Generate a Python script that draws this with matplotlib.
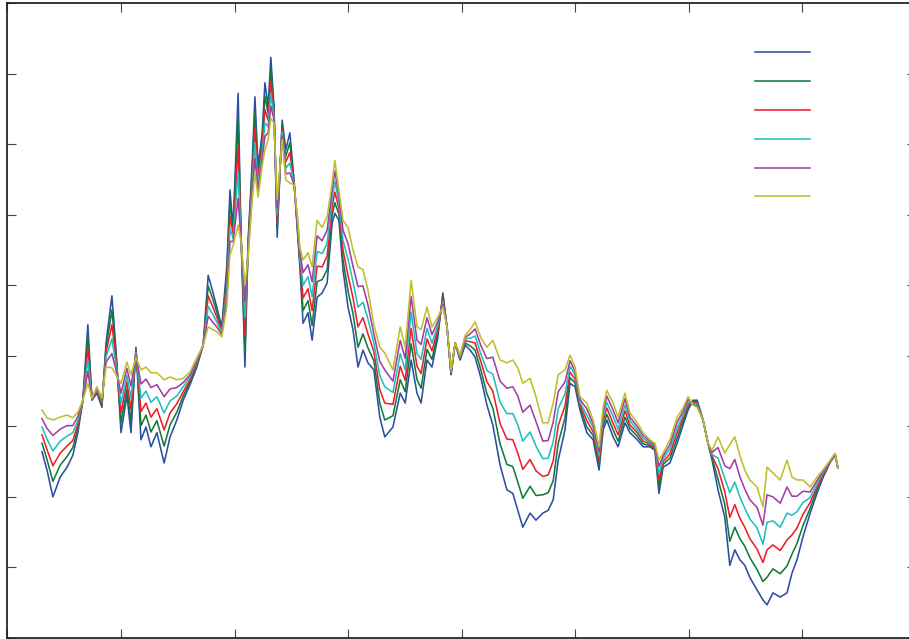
import numpy as np
import matplotlib
matplotlib.use("Agg")
import matplotlib.pyplot as plt

# trading-day index of each observation
day = [76, 87, 100, 116, 131, 144, 155, 166, 177, 186,
       197, 208, 217, 230, 239, 250, 263, 272, 283, 294,
       305, 316, 329, 345, 358, 373, 387, 402, 417, 431,
       442, 453, 461, 472, 483, 490, 497, 508, 514, 523,
       530, 539, 545, 552, 561, 567, 574, 580, 587, 594,
       605, 613, 622, 631, 638, 644, 651, 662, 671, 682,
       693, 704, 715, 721, 730, 739, 750, 761, 772, 783,
       794, 807, 820, 831, 849, 865, 876, 889, 902, 911,
       924, 935, 948, 959, 968, 977, 986, 997, 1008, 1019,
       1030, 1043, 1056, 1069, 1085, 1100, 1113, 1124, 1135, 1151,
       1164, 1179, 1191, 1202, 1213, 1228, 1239, 1250, 1261, 1276,
       1290, 1303, 1312, 1320, 1334, 1345, 1360, 1371, 1387, 1400,
       1415, 1426, 1435, 1444, 1459, 1475, 1488, 1499, 1510, 1519,
       1532, 1543, 1552, 1565, 1580, 1591, 1602, 1613, 1624, 1635,
       1651, 1664, 1673, 1686, 1702, 1717, 1728, 1739, 1752, 1768,
       1783, 1796, 1812, 1823, 1829]

# six series, from the most volatile (s1) to the smoothest (s6)
s1 = [2.64, 2.38, 2.00, 2.28, 2.42, 2.59, 2.91, 3.37, 4.44, 3.37,
      3.47, 3.27, 4.18, 4.85, 4.08, 2.91, 3.44, 2.91, 4.12, 2.81,
      2.99, 2.71, 2.91, 2.48, 2.85, 3.09, 3.37, 3.59, 3.84, 4.15,
      5.14, 4.89, 4.69, 4.41, 5.26, 6.35, 5.82, 7.72, 5.82, 3.84,
      5.64, 6.73, 7.67, 6.68, 7.16, 7.87, 7.53, 8.23, 7.53, 5.68,
      7.34, 6.92, 7.16, 6.49, 5.82, 5.26, 4.46, 4.61, 4.22, 4.83,
      4.89, 5.03, 5.88, 6.02, 5.92, 5.22, 4.69, 4.37, 3.84, 4.08,
      3.90, 3.80, 3.13, 2.85, 2.99, 3.47, 3.33, 3.94, 3.47, 3.33,
      3.94, 3.84, 4.27, 4.89, 4.41, 3.73, 4.18, 3.94, 4.15, 4.08,
      3.98, 3.68, 3.30, 3.02, 2.45, 2.10, 2.05, 1.81, 1.57, 1.77,
      1.67, 1.77, 1.81, 1.96, 2.52, 2.95, 3.61, 3.56, 3.23, 2.91,
      2.81, 2.38, 2.95, 3.09, 2.85, 2.71, 3.05, 2.91, 2.81, 2.71,
      2.71, 2.66, 2.05, 2.42, 2.48, 2.76, 3.02, 3.23, 3.37, 3.37,
      3.09, 2.76, 2.52, 2.10, 1.71, 1.03, 1.25, 1.11, 1.03, 0.86,
      0.68, 0.54, 0.47, 0.64, 0.58, 0.64, 0.92, 1.11, 1.43, 1.77,
      2.05, 2.27, 2.49, 2.59, 2.41]
s2 = [2.76, 2.53, 2.22, 2.45, 2.57, 2.70, 2.97, 3.37, 4.27, 3.38,
      3.49, 3.30, 4.11, 4.65, 4.01, 3.05, 3.53, 3.07, 4.09, 3.01,
      3.16, 2.92, 3.08, 2.72, 3.02, 3.20, 3.43, 3.63, 3.87, 4.15,
      4.99, 4.79, 4.62, 4.38, 5.15, 6.17, 5.77, 7.35, 5.78, 4.07,
      5.59, 6.63, 7.45, 6.59, 7.07, 7.68, 7.44, 8.06, 7.48, 5.79,
      7.28, 6.83, 7.02, 6.48, 5.86, 5.32, 4.64, 4.78, 4.43, 5.05,
      5.08, 5.22, 5.99, 6.17, 6.01, 5.36, 4.92, 4.60, 4.12, 4.31,
      4.11, 3.93, 3.33, 3.09, 3.15, 3.66, 3.49, 4.17, 3.66, 3.54,
      4.09, 3.95, 4.33, 4.85, 4.41, 3.74, 4.18, 3.95, 4.18, 4.14,
      4.08, 3.79, 3.46, 3.26, 2.75, 2.46, 2.43, 2.21, 1.98, 2.15,
      2.02, 2.03, 2.06, 2.23, 2.76, 3.12, 3.69, 3.62, 3.27, 2.99,
      2.87, 2.45, 3.01, 3.17, 2.95, 2.79, 3.13, 2.97, 2.86, 2.75,
      2.73, 2.68, 2.14, 2.46, 2.55, 2.83, 3.07, 3.27, 3.36, 3.35,
      3.09, 2.76, 2.55, 2.25, 1.89, 1.37, 1.57, 1.41, 1.30, 1.14,
      0.97, 0.80, 0.86, 0.98, 0.91, 1.02, 1.19, 1.34, 1.59, 1.84,
      2.10, 2.29, 2.50, 2.60, 2.41]
s3 = [2.88, 2.67, 2.44, 2.62, 2.72, 2.80, 3.03, 3.37, 4.11, 3.38,
      3.51, 3.32, 4.05, 4.44, 3.94, 3.19, 3.63, 3.24, 4.06, 3.21,
      3.33, 3.13, 3.25, 2.95, 3.19, 3.32, 3.49, 3.66, 3.89, 4.15,
      4.85, 4.68, 4.55, 4.35, 5.03, 5.98, 5.72, 6.97, 5.75, 4.30,
      5.54, 6.52, 7.24, 6.51, 6.98, 7.49, 7.34, 7.89, 7.44, 5.89,
      7.22, 6.75, 6.88, 6.46, 5.90, 5.37, 4.82, 4.95, 4.64, 5.27,
      5.26, 5.41, 6.11, 6.32, 6.09, 5.50, 5.14, 4.82, 4.41, 4.54,
      4.31, 4.06, 3.52, 3.33, 3.31, 3.85, 3.65, 4.39, 3.85, 3.75,
      4.24, 4.07, 4.38, 4.81, 4.41, 3.76, 4.18, 3.97, 4.21, 4.20,
      4.18, 3.91, 3.63, 3.50, 3.04, 2.82, 2.81, 2.62, 2.39, 2.53,
      2.37, 2.29, 2.31, 2.51, 3.01, 3.29, 3.77, 3.67, 3.31, 3.08,
      2.92, 2.51, 3.08, 3.26, 3.04, 2.88, 3.22, 3.02, 2.91, 2.79,
      2.75, 2.70, 2.24, 2.50, 2.61, 2.91, 3.12, 3.31, 3.34, 3.33,
      3.09, 2.76, 2.58, 2.40, 2.07, 1.71, 1.89, 1.70, 1.57, 1.41,
      1.26, 1.07, 1.25, 1.32, 1.24, 1.39, 1.46, 1.56, 1.75, 1.92,
      2.14, 2.31, 2.50, 2.60, 2.41]
s4 = [2.99, 2.82, 2.65, 2.79, 2.86, 2.91, 3.08, 3.37, 3.94, 3.39,
      3.52, 3.35, 3.98, 4.24, 3.87, 3.33, 3.72, 3.40, 4.04, 3.40,
      3.50, 3.34, 3.42, 3.19, 3.36, 3.43, 3.56, 3.70, 3.92, 4.15,
      4.70, 4.58, 4.48, 4.33, 4.92, 5.80, 5.67, 6.60, 5.71, 4.54,
      5.50, 6.42, 7.02, 6.42, 6.88, 7.30, 7.25, 7.71, 7.39, 6.00,
      7.17, 6.66, 6.73, 6.45, 5.94, 5.43, 5.00, 5.12, 4.84, 5.48,
      5.45, 5.59, 6.22, 6.47, 6.18, 5.64, 5.37, 5.05, 4.69, 4.76,
      4.52, 4.18, 3.72, 3.56, 3.48, 4.03, 3.80, 4.62, 4.03, 3.95,
      4.39, 4.18, 4.44, 4.77, 4.41, 3.77, 4.18, 3.98, 4.24, 4.25,
      4.28, 4.02, 3.79, 3.74, 3.34, 3.18, 3.18, 3.02, 2.79, 2.92,
      2.72, 2.54, 2.55, 2.78, 3.25, 3.46, 3.85, 3.73, 3.34, 3.16,
      2.98, 2.58, 3.14, 3.34, 3.14, 2.96, 3.30, 3.08, 2.95, 2.83,
      2.77, 2.72, 2.33, 2.54, 2.68, 2.98, 3.16, 3.34, 3.33, 3.31,
      3.09, 2.76, 2.60, 2.55, 2.26, 2.06, 2.21, 2.00, 1.84, 1.69,
      1.56, 1.33, 1.64, 1.66, 1.57, 1.77, 1.74, 1.79, 1.92, 1.99,
      2.19, 2.34, 2.51, 2.61, 2.41]
s5 = [3.11, 2.97, 2.87, 2.96, 3.01, 3.01, 3.14, 3.37, 3.78, 3.39,
      3.54, 3.37, 3.91, 4.03, 3.80, 3.47, 3.82, 3.57, 4.01, 3.60,
      3.67, 3.55, 3.59, 3.42, 3.53, 3.55, 3.62, 3.73, 3.94, 4.15,
      4.56, 4.47, 4.41, 4.30, 4.80, 5.62, 5.62, 6.23, 5.68, 4.77,
      5.45, 6.31, 6.80, 6.34, 6.79, 7.11, 7.16, 7.54, 7.35, 6.10,
      7.11, 6.58, 6.59, 6.43, 5.98, 5.48, 5.18, 5.29, 5.05, 5.70,
      5.63, 5.78, 6.34, 6.62, 6.26, 5.78, 5.59, 5.27, 4.98, 4.99,
      4.72, 4.31, 3.92, 3.80, 3.64, 4.22, 3.96, 4.84, 4.22, 4.16,
      4.54, 4.30, 4.49, 4.73, 4.41, 3.79, 4.18, 4.00, 4.26, 4.31,
      4.38, 4.14, 3.96, 3.98, 3.64, 3.54, 3.56, 3.43, 3.20, 3.30,
      3.07, 2.79, 2.80, 3.06, 3.49, 3.63, 3.93, 3.78, 3.38, 3.25,
      3.03, 2.64, 3.21, 3.43, 3.23, 3.05, 3.39, 3.13, 3.00, 2.87,
      2.79, 2.74, 2.43, 2.58, 2.74, 3.06, 3.21, 3.38, 3.31, 3.29,
      3.09, 2.76, 2.63, 2.70, 2.44, 2.40, 2.53, 2.29, 2.11, 1.96,
      1.85, 1.60, 2.03, 2.00, 1.91, 2.14, 2.01, 2.01, 2.08, 2.07,
      2.23, 2.36, 2.51, 2.61, 2.41]
s6 = [3.23, 3.12, 3.09, 3.13, 3.16, 3.12, 3.20, 3.37, 3.61, 3.40,
      3.56, 3.40, 3.84, 3.83, 3.73, 3.61, 3.91, 3.73, 3.98, 3.80,
      3.84, 3.76, 3.76, 3.66, 3.70, 3.66, 3.68, 3.77, 3.97, 4.15,
      4.41, 4.37, 4.34, 4.27, 4.69, 5.43, 5.57, 5.85, 5.64, 5.00,
      5.40, 6.21, 6.59, 6.25, 6.70, 6.92, 7.06, 7.37, 7.30, 6.21,
      7.06, 6.49, 6.45, 6.42, 6.02, 5.54, 5.36, 5.46, 5.26, 5.92,
      5.82, 5.97, 6.45, 6.77, 6.35, 5.92, 5.82, 5.50, 5.26, 5.22,
      4.93, 4.44, 4.12, 4.04, 3.80, 4.41, 4.12, 5.07, 4.41, 4.37,
      4.69, 4.41, 4.55, 4.69, 4.41, 3.80, 4.18, 4.01, 4.29, 4.37,
      4.48, 4.25, 4.12, 4.22, 3.94, 3.90, 3.94, 3.83, 3.61, 3.68,
      3.42, 3.05, 3.05, 3.33, 3.73, 3.80, 4.01, 3.84, 3.42, 3.33,
      3.09, 2.71, 3.27, 3.51, 3.33, 3.13, 3.47, 3.19, 3.05, 2.91,
      2.81, 2.76, 2.52, 2.62, 2.81, 3.13, 3.26, 3.42, 3.30, 3.27,
      3.09, 2.76, 2.66, 2.85, 2.62, 2.74, 2.85, 2.59, 2.38, 2.24,
      2.14, 1.86, 2.42, 2.34, 2.24, 2.52, 2.28, 2.24, 2.24, 2.14,
      2.28, 2.38, 2.52, 2.62, 2.41]

series = [s1, s2, s3, s4, s5, s6]
colors = ['#2c4fa3', '#137a3e', '#ee1f2a', '#21bfbf', '#a23fa1', '#bfbf2c']

fig = plt.figure(figsize=(9.09, 6.39), dpi=100)
# axes run a little past the right edge of the figure
ax = fig.add_axes([7.5/909, 1/639, 908/909, 635/639])

lines = []
for s, c in zip(series, colors):
    ln, = ax.plot(day, s, color=c, lw=1.15)
    lines.append(ln)

ax.set_xlim(0, 2000)
ax.set_ylim(0, 9)
ax.set_xticks(np.arange(0, 2001, 250))
ax.set_yticks(np.arange(0, 10, 1))
ax.tick_params(which='both', direction='in', top=True, right=True,
               labelbottom=False, labelleft=False,
               length=6.5, width=0.8, color='#444444')
for sp in ax.spines.values():
    sp.set_linewidth(1.3)
    sp.set_color('#262626')

ax.legend(lines, [' '] * 6, loc='upper left',
          bbox_to_anchor=(755/909, 1 - 46/639), bbox_transform=fig.transFigure,
          frameon=False, fontsize=10, handlelength=3.95, handletextpad=0.5,
          labelspacing=1.07, borderpad=0, borderaxespad=0)

fig.savefig('out.png', dpi=100)
